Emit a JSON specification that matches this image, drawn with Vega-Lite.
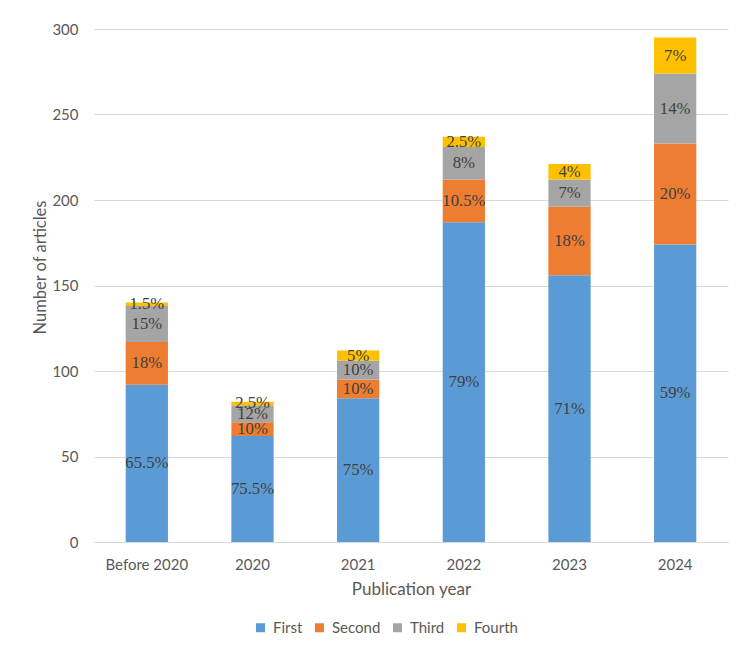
{
  "$schema": "https://vega.github.io/schema/vega-lite/v6.json",
  "width": 634,
  "height": 513,
  "autosize": "none",
  "padding": {"left": 94, "top": 29, "right": 22, "bottom": 116},
  "background": "white",
  "data": {
    "values": [
      {"year": "Before 2020", "author": "First", "rank": 1, "count": 92, "pct": "65.5%"},
      {"year": "Before 2020", "author": "Second", "rank": 2, "count": 25, "pct": "18%"},
      {"year": "Before 2020", "author": "Third", "rank": 3, "count": 21, "pct": "15%"},
      {"year": "Before 2020", "author": "Fourth", "rank": 4, "count": 2, "pct": "1.5%"},
      {"year": "2020", "author": "First", "rank": 1, "count": 62, "pct": "75.5%"},
      {"year": "2020", "author": "Second", "rank": 2, "count": 8, "pct": "10%"},
      {"year": "2020", "author": "Third", "rank": 3, "count": 10, "pct": "12%"},
      {"year": "2020", "author": "Fourth", "rank": 4, "count": 2, "pct": "2.5%"},
      {"year": "2021", "author": "First", "rank": 1, "count": 84, "pct": "75%"},
      {"year": "2021", "author": "Second", "rank": 2, "count": 11, "pct": "10%"},
      {"year": "2021", "author": "Third", "rank": 3, "count": 11, "pct": "10%"},
      {"year": "2021", "author": "Fourth", "rank": 4, "count": 6, "pct": "5%"},
      {"year": "2022", "author": "First", "rank": 1, "count": 187, "pct": "79%"},
      {"year": "2022", "author": "Second", "rank": 2, "count": 25, "pct": "10.5%"},
      {"year": "2022", "author": "Third", "rank": 3, "count": 19, "pct": "8%"},
      {"year": "2022", "author": "Fourth", "rank": 4, "count": 6, "pct": "2.5%"},
      {"year": "2023", "author": "First", "rank": 1, "count": 156, "pct": "71%"},
      {"year": "2023", "author": "Second", "rank": 2, "count": 40, "pct": "18%"},
      {"year": "2023", "author": "Third", "rank": 3, "count": 16, "pct": "7%"},
      {"year": "2023", "author": "Fourth", "rank": 4, "count": 9, "pct": "4%"},
      {"year": "2024", "author": "First", "rank": 1, "count": 174, "pct": "59%"},
      {"year": "2024", "author": "Second", "rank": 2, "count": 59, "pct": "20%"},
      {"year": "2024", "author": "Third", "rank": 3, "count": 41, "pct": "14%"},
      {"year": "2024", "author": "Fourth", "rank": 4, "count": 21, "pct": "7%"}
    ]
  },
  "encoding": {
    "x": {
      "field": "year",
      "type": "nominal",
      "sort": ["Before 2020", "2020", "2021", "2022", "2023", "2024"],
      "scale": {"paddingInner": 0.6, "paddingOuter": 0.3},
      "axis": {
        "title": "Publication year",
        "labelAngle": 0,
        "ticks": false,
        "labelPadding": 15,
        "titlePadding": 9,
        "titleFontSize": 17,
        "domainColor": "#d9d9d9"
      }
    },
    "y": {
      "field": "count",
      "type": "quantitative",
      "stack": "zero",
      "scale": {"domain": [0, 300]},
      "axis": {
        "title": "Number of articles",
        "values": [0, 50, 100, 150, 200, 250, 300],
        "domain": false,
        "ticks": false,
        "labelPadding": 16,
        "titleX": -54,
        "titleY": 238,
        "titleBaseline": "middle",
        "titleFontSize": 16.5
      }
    },
    "order": {"field": "rank", "type": "quantitative", "sort": "ascending"}
  },
  "layer": [
    {
      "mark": {"type": "bar"},
      "encoding": {
        "color": {
          "field": "author",
          "type": "nominal",
          "sort": ["First", "Second", "Third", "Fourth"],
          "scale": {
            "domain": ["First", "Second", "Third", "Fourth"],
            "range": ["#5b9bd5", "#ed7d31", "#a5a5a5", "#ffc000"]
          },
          "legend": {
            "title": null,
            "orient": "none",
            "legendX": 159,
            "legendY": 591,
            "direction": "horizontal",
            "symbolType": "square",
            "symbolSize": 81,
            "symbolStrokeWidth": 0,
            "labelOffset": 5,
            "columnPadding": 9,
            "padding": 0
          }
        }
      }
    },
    {
      "mark": {
        "type": "text",
        "font": "Liberation Serif",
        "fontSize": 16.7,
        "color": "#404040",
        "baseline": "middle"
      },
      "encoding": {
        "y": {
          "field": "count",
          "type": "quantitative",
          "stack": "zero",
          "bandPosition": 0.5
        },
        "text": {"field": "pct"}
      }
    }
  ],
  "config": {
    "view": {"stroke": null},
    "axis": {
      "labelFont": "Lato",
      "labelFontSize": 15,
      "labelColor": "#595959",
      "titleFont": "Lato",
      "titleFontWeight": "normal",
      "titleColor": "#595959",
      "gridColor": "#d9d9d9"
    },
    "legend": {
      "labelFont": "Lato",
      "labelFontSize": 15,
      "labelColor": "#595959"
    }
  }
}
